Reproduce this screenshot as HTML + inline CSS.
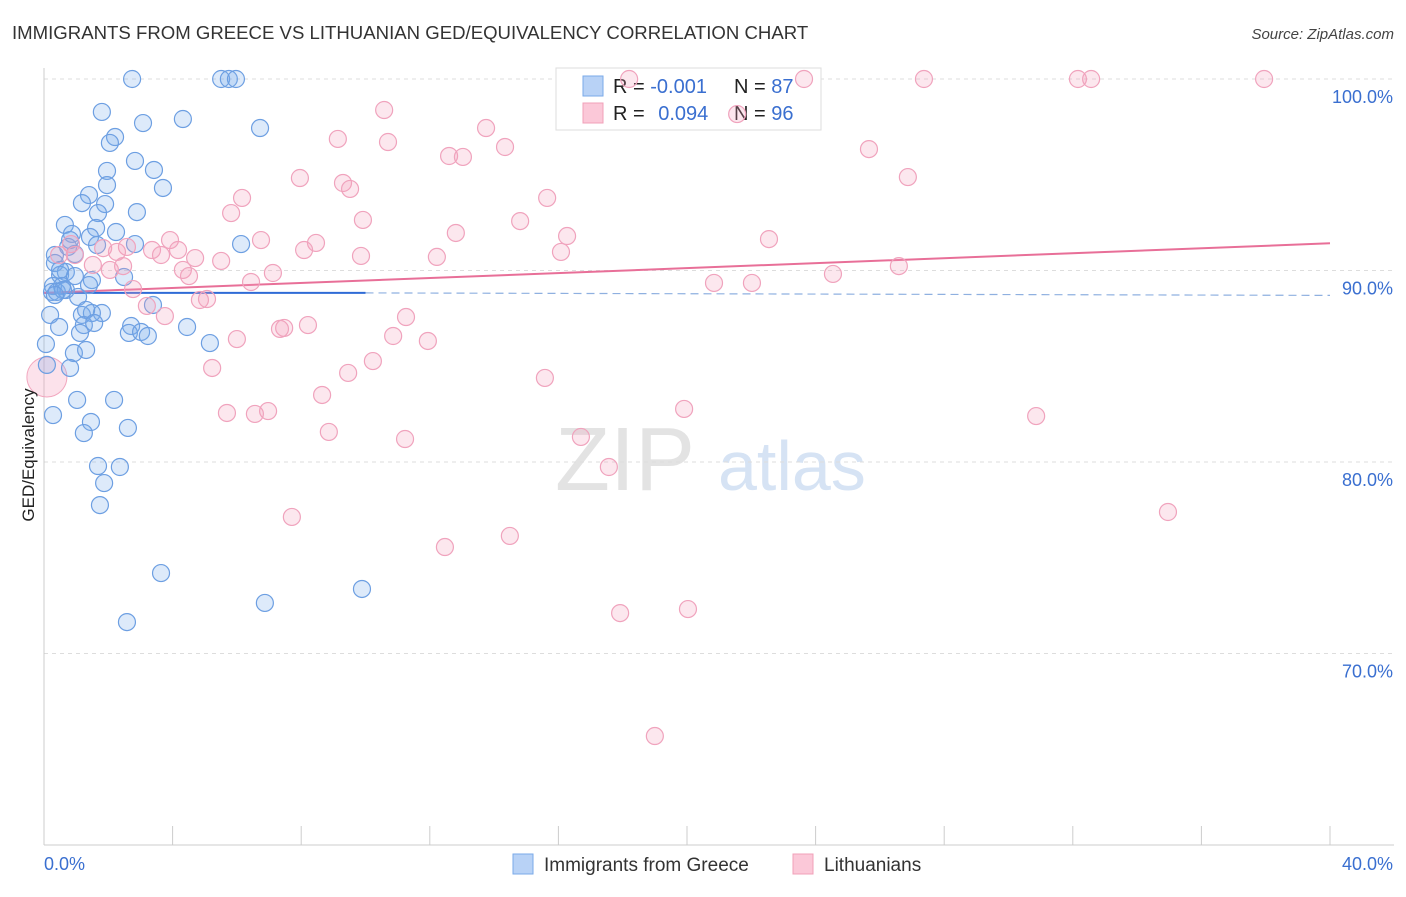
<!DOCTYPE html>
<html><head><meta charset="utf-8"><style>
body{margin:0;background:#fff;font-family:"Liberation Sans",sans-serif;}
svg text{font-family:"Liberation Sans",sans-serif;}
</style></head><body>
<svg id="chart" width="1406" height="892" xmlns="http://www.w3.org/2000/svg">
<text x="12" y="39" font-size="18.6" fill="#333">IMMIGRANTS FROM GREECE VS LITHUANIAN GED/EQUIVALENCY CORRELATION CHART</text>
<text x="1394" y="39" font-size="15" fill="#444" text-anchor="end" font-style="italic">Source: ZipAtlas.com</text>
<g><text x="555" y="490" font-size="90" fill="#d8d8d8" font-family="Liberation Serif" opacity="0.7">ZIP</text><text x="718" y="490" font-size="70" fill="#c5d8f0" opacity="0.7">atlas</text></g>
<g id="grid"></g>
<g id="axes"></g>
<g>
<rect x="556" y="68" width="265" height="62" fill="#fff" stroke="#ddd"/>
<rect x="583" y="76" width="20" height="20" fill="#b8d2f6" stroke="#7aaae8"/>
<rect x="583" y="103" width="20" height="20" fill="#fbc8d8" stroke="#f0a0b8"/>
<text x="613" y="93" font-size="20" fill="#222">R = <tspan fill="#3a6fd0">-0.001</tspan></text>
<text x="734" y="93" font-size="20" fill="#222">N = <tspan fill="#3a6fd0">87</tspan></text>
<text x="613" y="120" font-size="20" fill="#222">R = <tspan fill="#3a6fd0" dx="8">0.094</tspan></text>
<text x="734" y="120" font-size="20" fill="#222">N = <tspan fill="#3a6fd0">96</tspan></text>
</g>
<g id="trends"></g>
<g id="points"></g>
<text transform="translate(34,455) rotate(-90)" font-size="17" fill="#222" text-anchor="middle">GED/Equivalency</text>
<g>
<rect x="513" y="854" width="20" height="20" fill="#b8d2f6" stroke="#7aaae8"/>
<text x="544" y="871" font-size="19" fill="#333">Immigrants from Greece</text>
<rect x="793" y="854" width="20" height="20" fill="#fbc8d8" stroke="#f0a0b8"/>
<text x="824" y="871" font-size="19" fill="#333">Lithuanians</text>
</g>
</svg>
<script>
const yTicks=[100,90,80,70];
const yTickLabels=["100.0%","90.0%","80.0%","70.0%"];
const xTicks=[0,4,8,12,16,20,24,28,32,36,40];
const xEndLabels=["0.0%","40.0%"];
const blueX=[2.74,5.51,5.75,5.97,1.80,3.08,4.32,6.72,2.21,2.05,2.83,3.42,1.96,3.70,1.96,1.40,1.90,1.18,1.68,2.89,0.65,1.62,0.87,1.43,6.13,2.83,0.75,1.65,0.96,0.34,0.34,0.68,0.50,0.96,2.49,1.49,0.28,0.56,1.40,0.25,0.40,0.68,1.06,3.39,0.19,1.18,1.80,1.49,1.31,0.47,1.24,1.56,2.71,2.64,3.02,3.23,4.45,1.12,0.93,1.31,5.16,0.06,0.09,0.81,1.03,2.18,0.28,1.46,1.24,2.61,1.68,2.36,1.87,1.74,3.64,6.87,9.89,2.58,0.50,0.81,2.24,0.59,0.34];
const blueY=[100,100,100,100,98.28,97.70,97.91,97.44,96.97,96.66,95.72,95.25,95.20,94.31,94.46,93.94,93.47,93.52,93.00,93.05,92.38,92.22,91.91,91.75,91.38,91.38,91.23,91.33,90.86,90.81,90.39,89.92,89.77,89.71,89.66,89.50,89.19,89.19,89.24,88.88,88.88,88.98,88.62,88.20,87.68,87.68,87.78,87.78,87.94,87.05,87.15,87.26,87.10,86.74,86.79,86.58,87.05,86.74,85.69,85.85,86.21,86.16,85.07,84.91,83.24,83.24,82.45,82.09,81.51,81.78,79.79,79.74,78.90,77.75,74.20,72.64,73.37,71.64,90.03,91.59,92.01,88.98,88.72];
const pinkX=[18.20,23.64,27.37,32.16,32.57,37.95,21.56,10.58,9.14,10.70,13.75,14.34,12.60,13.03,25.66,26.87,7.96,9.30,9.52,6.16,15.65,5.82,9.92,14.81,12.81,16.27,6.75,22.55,3.92,0.84,8.46,2.58,3.36,8.09,1.84,4.17,2.27,3.64,16.08,9.86,12.22,5.51,4.70,1.52,2.46,2.05,4.32,4.51,7.12,6.44,2.77,24.54,26.59,20.84,22.02,4.85,5.07,3.20,3.76,11.26,8.21,7.47,7.34,6.00,10.86,11.94,10.23,5.23,9.46,15.58,8.65,5.69,6.97,6.56,19.91,30.86,8.86,11.23,16.70,17.57,7.71,34.96,12.47,14.49,17.92,20.03,19.00,0.47,0.96];
const pinkY=[100,100,100,100,100,100,98.17,98.38,96.87,96.71,97.44,96.45,95.98,95.93,96.34,94.88,94.83,94.57,94.26,93.79,93.79,93.00,92.64,92.58,91.96,91.80,91.59,91.64,91.59,91.38,91.44,91.23,91.07,91.07,91.17,91.07,90.97,90.81,90.97,90.76,90.71,90.50,90.65,90.29,90.23,90.03,90.03,89.71,89.87,89.40,89.03,89.82,90.23,89.35,89.35,88.46,88.51,88.15,87.62,87.57,87.15,87.00,86.95,86.42,86.58,86.32,85.27,84.91,84.65,84.39,83.50,82.56,82.66,82.51,82.77,82.40,81.57,81.20,81.31,79.74,77.13,77.39,75.56,76.14,72.11,72.32,65.69,90.81,90.81];
const bigPink=[0.09,84.44];
const blueTrend=[88.83,88.83,88.70];
const pinkTrend=[88.83,91.42];
const X0=44,X1=1330,Y100=79,PER=19.15;
const xs=v=>X0+(v/40)*(X1-X0);
const ys=v=>Y100+(100-v)*PER;
const NS="http://www.w3.org/2000/svg";
function mk(tag,attrs,parent){const e=document.createElementNS(NS,tag);for(const k in attrs)e.setAttribute(k,attrs[k]);parent.appendChild(e);return e;}
const grid=document.getElementById('grid'),axes=document.getElementById('axes'),tr=document.getElementById('trends'),pts=document.getElementById('points');
yTicks.forEach((t,i)=>{
 const l=mk('line',{x1:X0,x2:1394,y1:ys(t),y2:ys(t),stroke:'#ddd','stroke-dasharray':'4,4'},grid);
 
 
 const tx=mk('text',{x:1393,y:ys(t)+24,'font-size':18,fill:'#3a6fd0','text-anchor':'end'},axes);
 tx.textContent=yTickLabels[i];
 
 
});
const ya=mk('line',{x1:X0,x2:X0,y1:68,y2:845,stroke:'#ccc'},axes);


const xa=mk('line',{x1:X0,x2:1394,y1:845,y2:845,stroke:'#ccc'},axes);


xTicks.forEach(t=>{const l=mk('line',{x1:xs(t),x2:xs(t),y1:826,y2:845,stroke:'#ccc'},axes);
 
 });
[[0,'start'],[40,'end']].forEach((p,i)=>{const tx=mk('text',{x:i?1393:44,y:870,'font-size':18,fill:'#3a6fd0','text-anchor':p[1]},axes);tx.textContent=xEndLabels[i];
 
 });
const bigc=mk('circle',{cx:xs(bigPink[0]),cy:ys(bigPink[1]),r:20,fill:'rgba(244,160,188,0.3)',stroke:'#f2a7bf','stroke-width':1},pts);


blueX.forEach((x,i)=>{const c=mk('circle',{cx:xs(x),cy:ys(blueY[i]),r:8.5,fill:'rgba(120,170,235,0.25)',stroke:'#6d9fe2','stroke-width':1.2},pts);
 
 });
pinkX.forEach((x,i)=>{const c=mk('circle',{cx:xs(x),cy:ys(pinkY[i]),r:8.5,fill:'rgba(244,160,188,0.25)',stroke:'#f0a3bd','stroke-width':1.2},pts);
 
 });
const b1=mk('line',{x1:xs(0),y1:ys(blueTrend[0]),x2:xs(10),y2:ys(blueTrend[1]),stroke:'#2f6bd6','stroke-width':2},tr);


const b2=mk('line',{x1:xs(10),y1:ys(blueTrend[1]),x2:xs(40),y2:ys(blueTrend[2]),stroke:'#8fb0e0','stroke-width':1.2,'stroke-dasharray':'8,5'},tr);


const p1=mk('line',{x1:xs(0),y1:ys(pinkTrend[0]),x2:xs(40),y2:ys(pinkTrend[1]),stroke:'#e86f98','stroke-width':2},tr);


</script>
</body></html>
